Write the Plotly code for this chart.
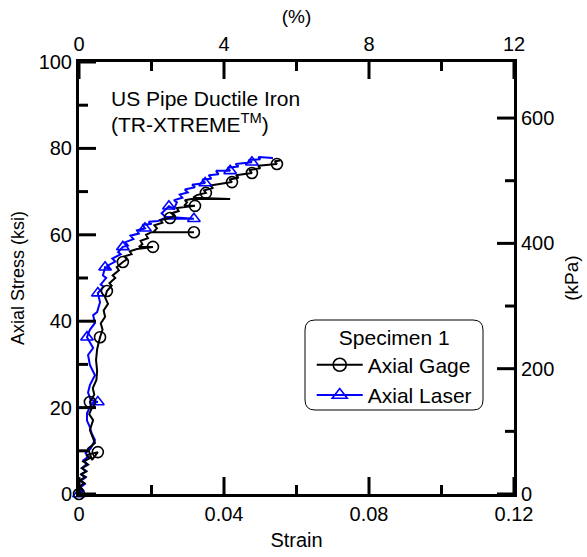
import plotly.graph_objects as go

# ---------------- data ----------------
# Axial Gage (black, circles): strain (-), stress (ksi)
gage_strain = [0.0000, 0.0010, 0.0002, 0.0015, 0.0003, 0.0018, 0.0005, 0.0020, 0.0008, 0.0025,
               0.0012, 0.0030, 0.0020, 0.0052, 0.0036, 0.0025, 0.0044, 0.0030, 0.0039, 0.0028,
               0.0035, 0.0030, 0.0042, 0.0038, 0.0048, 0.0050, 0.0047, 0.0050, 0.0058, 0.0065,
               0.0060, 0.0072, 0.0068, 0.0080, 0.0072, 0.0077,
               0.0090, 0.0084, 0.0100, 0.0093, 0.0110, 0.0104, 0.0121,
               0.0132, 0.0126, 0.0145, 0.0140, 0.0160, 0.0204, 0.0165, 0.0175, 0.0170, 0.0190,
               0.0185, 0.0200, 0.0317, 0.0205, 0.0215, 0.0208, 0.0230, 0.0225, 0.0251,
               0.0262, 0.0255, 0.0275, 0.0270, 0.0320, 0.0290, 0.0298, 0.0292, 0.0310, 0.0417,
               0.0315, 0.0325, 0.0350, 0.0345, 0.0370, 0.0362, 0.0395, 0.0422,
               0.0415, 0.0440, 0.0433, 0.0477, 0.0470, 0.0500, 0.0494, 0.0525, 0.0546,
               0.0540, 0.0555]
gage_stress = [0.0, 1.0, 1.8, 2.5, 3.2, 4.0, 4.6, 5.2, 6.0, 6.8,
               7.5, 8.3, 9.0, 9.7, 7.9, 10.5, 11.8, 14.8, 17.1, 18.5,
               19.8, 21.3, 23.0, 24.5, 26.4, 28.5, 31.0, 33.5, 36.3, 38.0,
               39.5, 41.0, 42.5, 44.0, 45.5, 47.0,
               48.2, 48.8, 50.0, 50.6, 51.8, 52.5, 53.7,
               54.3, 55.0, 55.5, 56.2, 56.7, 57.2, 57.2, 57.8, 58.6, 59.2,
               60.0, 60.6, 60.6, 60.6, 61.5, 62.2, 62.8, 63.4, 63.9,
               64.4, 65.0, 65.5, 66.2, 66.7, 66.7, 67.5, 68.0, 68.3, 68.3,
               68.6, 69.2, 69.7, 70.3, 70.8, 71.4, 71.8, 72.2,
               72.8, 73.2, 73.8, 74.3, 75.0, 75.4, 76.0, 76.3, 76.4,
               77.0, 77.2]
gage_marker_idx = [0, 13, 21, 28, 35, 42, 48, 55, 61, 66, 74, 79, 83, 88]

# Axial Laser (blue, triangles): strain (-), stress (ksi)
laser_strain = [0.0000, 0.0012, 0.0003, 0.0016, 0.0004, 0.0018, 0.0006, 0.0020, 0.0008, 0.0022,
                0.0012, 0.0025, 0.0018, 0.0032, 0.0044, 0.0035, 0.0030, 0.0022, 0.0022, 0.0030,
                0.0035, 0.0052, 0.0032, 0.0025, 0.0030, 0.0044, 0.0030, 0.0025, 0.0039, 0.0022,
                0.0030, 0.0044, 0.0039, 0.0050, 0.0058, 0.0052,
                0.0068, 0.0060, 0.0075, 0.0066, 0.0072, 0.0085, 0.0078, 0.0100, 0.0092, 0.0115,
                0.0108, 0.0121, 0.0135, 0.0128, 0.0150, 0.0142, 0.0165, 0.0160, 0.0182, 0.0175,
                0.0200, 0.0192, 0.0218, 0.0232, 0.0317, 0.0238, 0.0228, 0.0248,
                0.0262, 0.0270, 0.0262, 0.0285, 0.0278, 0.0300, 0.0292, 0.0320, 0.0312, 0.0348,
                0.0340, 0.0365, 0.0358, 0.0385, 0.0378, 0.0417, 0.0410, 0.0440, 0.0432, 0.0477,
                0.0468, 0.0500, 0.0495, 0.0535]
laser_stress = [0.0, 0.8, 1.5, 2.3, 3.0, 3.8, 4.5, 5.3, 6.0, 7.0,
                7.8, 8.6, 9.5, 10.5, 12.5, 14.0, 15.5, 17.0, 18.7, 20.0,
                21.0, 21.3, 21.8, 23.5, 25.2, 27.5, 29.9, 32.2, 33.8, 36.3,
                38.0, 39.6, 41.4, 42.1, 44.4, 46.5,
                48.0, 48.5, 50.0, 50.6, 52.5, 52.0, 52.8, 53.8, 54.5, 55.5,
                56.0, 57.2, 57.5, 58.3, 59.0, 59.8, 60.3, 61.0, 61.5, 62.3,
                62.5, 63.0, 63.2, 63.7, 63.7, 64.2, 65.0, 66.6,
                66.0, 67.5, 68.0, 68.6, 69.3, 69.8, 70.5, 71.0, 71.6, 72.0,
                72.8, 73.0, 73.8, 74.0, 74.8, 74.8, 75.5, 75.8, 76.4, 76.8,
                77.3, 77.5, 78.0, 77.8]
laser_marker_idx = [0, 21, 29, 35, 40, 47, 54, 60, 63, 73, 79, 83]

# axis ranges, tick values / labels
X_RANGE = [0, 0.12]
Y_RANGE = [0, 100]
PCT_RANGE = [0, 12]
KSI_TO_KPA = 6.89476  # right-hand scale factor (ksi -> labelled units)
KPA_RANGE = [0, 100 * KSI_TO_KPA]
x_major = [0, 0.04, 0.08, 0.12]
x_major_text = ["0", "0.04", "0.08", "0.12"]
x_minor = [0.02, 0.06, 0.10]
y_major = [0, 20, 40, 60, 80, 100]
y_minor = [10, 30, 50, 70, 90]
pct_major = [0, 4, 8, 12]
pct_minor = [2, 6, 10]
kpa_major = [0, 200, 400, 600]
kpa_minor = [100, 300, 500]

FONT = "Liberation Sans, Arial, sans-serif"
FS_TICK = 20
FS_TEXT = 21
BLUE = "#0000ff"

# plot-area size in px (for tick lengths)
PW, PH = 435, 432
MAJ, MIN = 17, 9

fig = go.Figure()

fig.add_trace(go.Scatter(x=laser_strain, y=laser_stress, mode="lines",
                         line=dict(color=BLUE, width=2), showlegend=False, hoverinfo="none"))
fig.add_trace(go.Scatter(x=gage_strain, y=gage_stress, mode="lines",
                         line=dict(color="black", width=2), showlegend=False, hoverinfo="none"))
fig.add_trace(go.Scatter(x=[laser_strain[i] for i in laser_marker_idx],
                         y=[laser_stress[i] for i in laser_marker_idx], mode="markers",
                         marker=dict(symbol="triangle-up-open", size=11, color=BLUE,
                                     line=dict(width=1.6, color=BLUE)),
                         showlegend=False, cliponaxis=False, hoverinfo="none"))
fig.add_trace(go.Scatter(x=[gage_strain[i] for i in gage_marker_idx],
                         y=[gage_stress[i] for i in gage_marker_idx], mode="markers",
                         marker=dict(symbol="circle-open", size=11, color="black",
                                     line=dict(width=1.6, color="black")),
                         showlegend=False, cliponaxis=False, hoverinfo="none"))
fig.add_trace(go.Scatter(x=[None], y=[None], mode="lines+markers", name="Axial Gage",
                         line=dict(color="black", width=2),
                         marker=dict(symbol="circle-open", size=13, color="black",
                                     line=dict(width=1.6, color="black"))))
fig.add_trace(go.Scatter(x=[None], y=[None], mode="lines+markers", name="Axial Laser",
                         line=dict(color=BLUE, width=2),
                         marker=dict(symbol="triangle-up-open", size=13, color=BLUE,
                                     line=dict(width=1.6, color=BLUE))))
fig.add_trace(go.Scatter(x=[s * 100 for s in gage_strain], y=[v * KSI_TO_KPA for v in gage_stress],
                         xaxis="x2", yaxis="y2", mode="lines", opacity=0,
                         showlegend=False, hoverinfo="none"))


def axis(rng, tickvals, title, tsize, standoff, ticktext=None, **kw):
    d = dict(range=rng, tickmode="array", tickvals=tickvals,
             showgrid=False, zeroline=False, showline=True, linecolor="black",
             linewidth=3, ticks="",
             tickfont=dict(family=FONT, size=FS_TICK, color="black"),
             title=dict(text=title, font=dict(family=FONT, size=tsize, color="black"),
                        standoff=standoff), **kw)
    if ticktext is not None:
        d["ticktext"] = ticktext
    return d


fig.update_layout(
    template="none",
    width=587, height=557,
    margin=dict(l=79, r=73, t=62, b=63),
    plot_bgcolor="white", paper_bgcolor="white",
    font=dict(family=FONT, size=FS_TEXT, color="black"),
    xaxis=axis(X_RANGE, x_major, "Strain", 20, 9, ticktext=x_major_text),
    yaxis=axis(Y_RANGE, y_major, "Axial Stress (ksi)", 18, 10),
    xaxis2=axis(PCT_RANGE, pct_major, "(%)", 19, 5, overlaying="x", side="top", anchor="y"),
    yaxis2=axis(KPA_RANGE, kpa_major, "(kPa)", 19, 12,
                overlaying="y", side="right", anchor="x"),
    legend=dict(x=0.535, y=0.409, xanchor="left", yanchor="top",
                bgcolor="rgba(0,0,0,0)", borderwidth=0,
                font=dict(family=FONT, size=FS_TEXT, color="black"),
                title=dict(text="Specimen 1", side="top center",
                           font=dict(family=FONT, size=FS_TEXT, color="black")),
                tracegroupgap=0, itemwidth=46),
    annotations=[
        dict(x=0.07, y=0.915, xref="paper", yref="paper", xanchor="left", yanchor="middle",
             text="US Pipe Ductile Iron", showarrow=False,
             font=dict(family=FONT, size=FS_TEXT, color="black")),
        dict(x=0.07, y=0.858, xref="paper", yref="paper", xanchor="left", yanchor="middle",
             text="(TR-XTREME<sup>TM</sup>)", showarrow=False,
             font=dict(family=FONT, size=FS_TEXT, color="black")),
    ],
)


def frac(v, rng):
    return (v - rng[0]) / (rng[1] - rng[0])


# inward tick marks, positioned from the tick arrays through each axis range (plot-area coords)
tick_line = dict(color="black", width=3)
for vals, ln in ((x_major, MAJ), (x_minor, MIN)):
    for v in vals:
        p = frac(v, X_RANGE)
        fig.add_shape(type="line", xref="paper", yref="paper", x0=p, x1=p, y0=0, y1=ln / PH,
                      line=tick_line)
for vals, ln in ((pct_major, MAJ), (pct_minor, MIN)):
    for v in vals:
        p = frac(v, PCT_RANGE)
        fig.add_shape(type="line", xref="paper", yref="paper", x0=p, x1=p, y0=1, y1=1 - ln / PH,
                      line=tick_line)
for vals, ln in ((y_major, MAJ), (y_minor, MIN)):
    for v in vals:
        p = frac(v, Y_RANGE)
        fig.add_shape(type="line", xref="paper", yref="paper", x0=0, x1=ln / PW, y0=p, y1=p,
                      line=tick_line)
for vals, ln in ((kpa_major, MAJ), (kpa_minor, MIN)):
    for v in vals:
        p = frac(v, KPA_RANGE)
        fig.add_shape(type="line", xref="paper", yref="paper", x0=1, x1=1 - ln / PW, y0=p, y1=p,
                      line=tick_line)

# rounded legend frame
x0, x1 = (305 - 79) / PW, (483 - 79) / PW
y1, y0 = (494 - 320) / PH, (494 - 410) / PH
rx, ry = 10 / PW, 10 / PH
path = (f"M {x0+rx},{y1} L {x1-rx},{y1} Q {x1},{y1} {x1},{y1-ry} "
        f"L {x1},{y0+ry} Q {x1},{y0} {x1-rx},{y0} L {x0+rx},{y0} Q {x0},{y0} {x0},{y0+ry} "
        f"L {x0},{y1-ry} Q {x0},{y1} {x0+rx},{y1} Z")
fig.add_shape(type="path", path=path, xref="paper", yref="paper",
              line=dict(color="black", width=1), fillcolor="rgba(0,0,0,0)")

fig.write_html("out.html")
